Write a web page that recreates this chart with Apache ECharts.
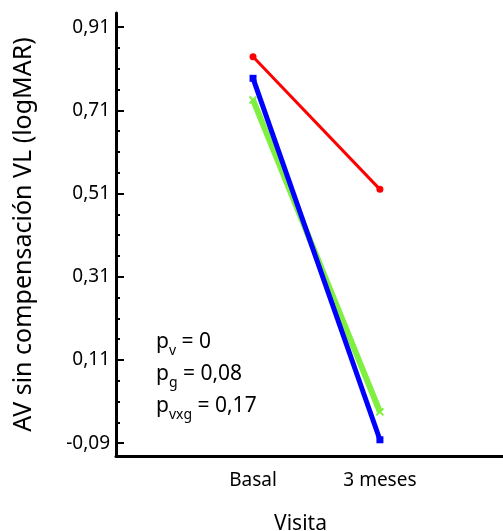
<!DOCTYPE html>
<html>
<head>
<meta charset="utf-8">
<script src="https://cdn.jsdelivr.net/npm/echarts@6/dist/echarts.min.js"></script>
<style>
  html, body { margin: 0; padding: 0; background: #fff; }
  #chart { width: 503px; height: 531px; }
</style>
</head>
<body>
<div id="chart"></div>
<script>
// visits (x = 1, 2)
const visitas = ["Basal", "3 meses"];
const visitaPos = [1, 2];
// logMAR means per group
const rojo = [0.839, 0.52];
const azul = [0.787, -0.082];
const verde = [0.735, -0.015];
// tick labels on y
const yTicks = [-0.09, 0.11, 0.31, 0.51, 0.71, 0.91];
const yMinor = [-0.04, 0.01, 0.06, 0.16, 0.21, 0.26, 0.36, 0.41, 0.46, 0.56, 0.61, 0.66, 0.76, 0.81, 0.86];

const font = "Noto Sans";

function pares(vals) {
  return visitaPos.map((x, i) => [x, vals[i]]);
}

const chart = echarts.init(document.getElementById("chart"));

chart.setOption({
  animation: false,
  textStyle: { fontFamily: font },
  grid: { left: 116, right: 0, top: 13, bottom: 75, outerBoundsMode: "none" },
  xAxis: {
    type: "value",
    min: -0.08,
    max: 2.97,
    name: "Visita",
    nameLocation: "middle",
    nameGap: 58,
    nameTextStyle: { fontSize: 21, color: "#000", padding: [0, 18, 0, 0] },
    axisLine: { onZero: false, lineStyle: { color: "#000", width: 3 } },
    axisTick: { show: false },
    splitLine: { show: false },
    axisLabel: {
      customValues: visitaPos,
      formatter: (v) => visitas[visitaPos.indexOf(v)],
      color: "#000",
      fontSize: 19,
      margin: 15,
    },
  },
  yAxis: [
    {
      type: "value",
      min: -0.121,
      max: 0.944,
      name: "AV sin compensación VL (logMAR)",
      nameLocation: "middle",
      nameGap: 80,
      nameTextStyle: { fontSize: 25, color: "#000" },
      axisLine: { show: true, onZero: false, lineStyle: { color: "#000", width: 3 } },
      axisTick: {
        show: true,
        inside: true,
        length: 8,
        customValues: yTicks,
        lineStyle: { color: "#000", width: 2 },
      },
      axisLabel: {
        customValues: yTicks,
        formatter: (v) => v.toFixed(2).replace(".", ","),
        color: "#000",
        fontSize: 19,
        margin: 6,
      },
      splitLine: { show: false },
    },
    {
      // minor ticks
      type: "value",
      min: -0.121,
      max: 0.944,
      position: "left",
      axisLine: { show: false, onZero: false },
      axisTick: {
        show: true,
        inside: true,
        length: 4,
        customValues: yMinor,
        lineStyle: { color: "#000", width: 2 },
      },
      axisLabel: { show: false },
      splitLine: { show: false },
    },
  ],
  series: [
    {
      type: "line",
      data: pares(rojo),
      symbol: "circle",
      symbolSize: 7,
      lineStyle: { color: "#ff0000", width: 3 },
      itemStyle: { color: "#ff0000" },
    },
    {
      type: "line",
      data: pares(verde),
      symbol: "path://M0,0 L10,10 M10,0 L0,10",
      symbolSize: 7,
      lineStyle: { color: "#80f040", width: 6 },
      itemStyle: { color: "#80f040", borderColor: "#80f040", borderWidth: 2 },
    },
    {
      type: "line",
      data: pares(azul),
      symbol: "rect",
      symbolSize: 7,
      lineStyle: { color: "#0000ff", width: 5 },
      itemStyle: { color: "#0000ff" },
    },
  ],
  graphic: [
    {
      type: "text",
      left: 156,
      top: 332,
      style: {
        text: "{p|p}{s|v}{p| = 0}\n{p|p}{s|g}{p| = 0,08}\n{p|p}{s|vxg}{p| = 0,17}",
        fontFamily: font,
        fill: "#000",
        rich: {
          p: { fontSize: 21, fontFamily: font, lineHeight: 32 },
          s: { fontSize: 14, fontFamily: font, lineHeight: 18, verticalAlign: "bottom" },
        },
      },
    },
  ],
});
</script>
</body>
</html>
